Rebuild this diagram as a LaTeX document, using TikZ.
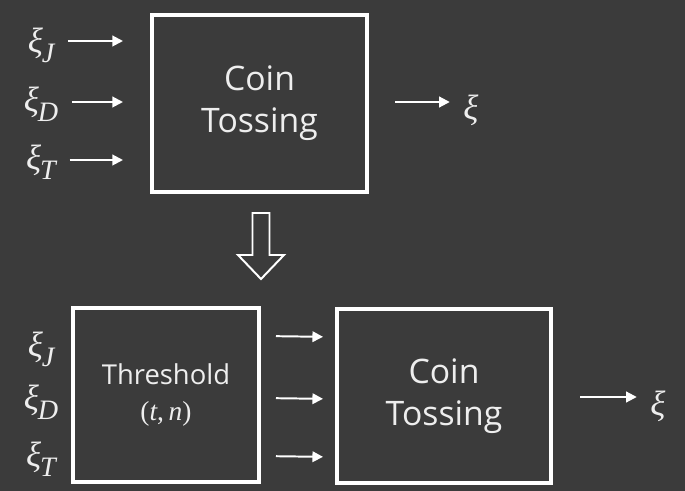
\documentclass[tikz,border=0pt]{standalone}
\usepackage{fontspec}
\setmainfont{Open Sans}
\newfontfamily\symfont{Liberation Serif}
\usetikzlibrary{arrows.meta,positioning,calc}
\definecolor{slidebg}{RGB}{59,59,59}
\definecolor{slideink}{RGB}{238,238,238}
\newcommand{\xisub}[1]{{\symfont\itshape ξ\kern-0.03em\raisebox{-0.28em}{\fontsize{20}{20}\selectfont #1}}}

\begin{document}
\begin{tikzpicture}[x=0.025cm, y=-0.025cm,
    block/.style={draw=white, line width=2.8pt, rectangle, fill=slidebg, align=center, text=slideink},
    bigtext/.style={font=\fontsize{24}{30}\selectfont},
    smalltext/.style={font=\fontsize{19.5}{25}\selectfont},
    sym/.style={text=slideink, inner sep=1pt, font=\fontsize{25}{28}\selectfont},
    flow/.style={draw=white, line width=1.4pt, -{Triangle[length=7.5pt,width=7.5pt]}},
    hollow/.style={draw=white, line width=1.4pt, line join=miter}]
    \useasboundingbox[fill=slidebg] (0,0) rectangle (685,491);

    % Top: coin tossing alone
    \node [block, bigtext, minimum width=5.375cm, minimum height=4.425cm] (tossA) at (259.5,103.5) {Coin\\Tossing};
    \node [sym] (xiJ) at (41,45) {\xisub{J}};
    \node [sym] (xiD) at (41,104) {\xisub{D}};
    \node [sym] (xiT) at (41,162) {\xisub{T}};
    \node [sym] (xiOut) at (471,110) {\symfont\itshape ξ};

    \draw[flow, shorten <=0.3cm, shorten >=0.675cm] (xiJ.east |- 0,41) -- (tossA.west |- 0,41);
    \draw[flow, shorten <=0.3cm, shorten >=0.675cm] (xiD.east |- 0,102) -- (tossA.west |- 0,102);
    \draw[flow, shorten <=0.3cm, shorten >=0.675cm] (xiT.east |- 0,160) -- (tossA.west |- 0,160);
    \draw[flow, shorten <=0.65cm, shorten >=0.3cm] (tossA.east |- 0,102) -- (xiOut.west |- 0,102);

    % Hollow arrow between the two stages
    \draw[hollow] (252.5,213) -- (252.5,255) -- (238,255) -- (261,279) -- (284,255) -- (269.5,255) -- (269.5,213) -- cycle;

    % Bottom: threshold in front of coin tossing
    \node [block, smalltext, minimum width=4.65cm, minimum height=4.35cm] (thresh) at (166,395) {Threshold\\{\symfont(\textit{t},\,\textit{n})}};
    \node [block, bigtext, minimum width=5.35cm, minimum height=4.35cm] (tossB) at (444,396) {Coin\\Tossing};
    \node [sym] (xiJb) at (41,349) {\xisub{J}};
    \node [sym] (xiDb) at (41,402) {\xisub{D}};
    \node [sym] (xiTb) at (41,459) {\xisub{T}};
    \node [sym] (xiOutb) at (658,406) {\symfont\itshape ξ};

    \draw[flow, shorten <=0.375cm, shorten >=0.3cm] ([yshift=1.475cm]thresh.east) -- ([yshift=1.475cm]tossB.west);
    \draw[flow, shorten <=0.375cm, shorten >=0.3cm] ([yshift=-0.075cm]thresh.east) -- ([yshift=-0.075cm]tossB.west);
    \draw[flow, shorten <=0.375cm, shorten >=0.3cm] ([yshift=-1.525cm]thresh.east) -- ([yshift=-1.525cm]tossB.west);
    \draw[flow, shorten <=0.675cm, shorten >=0.3cm] (tossB.east |- 0,397) -- (xiOutb.west |- 0,397);
\end{tikzpicture}
\end{document}
